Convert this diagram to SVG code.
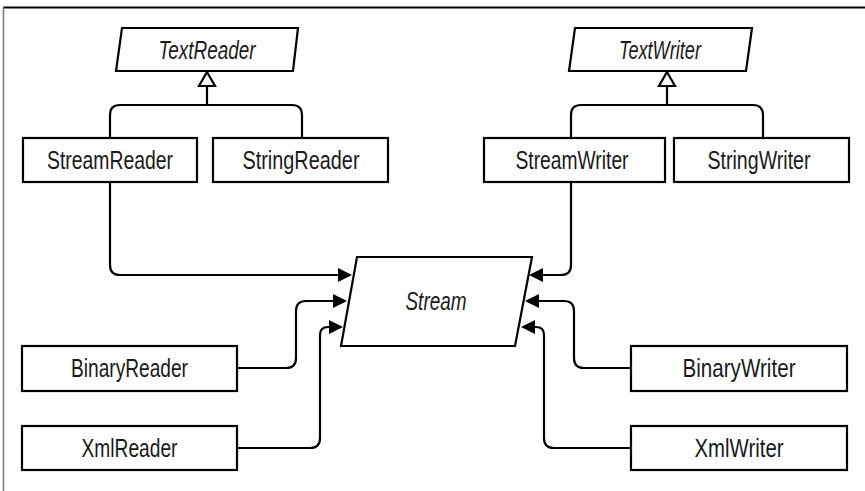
<svg xmlns="http://www.w3.org/2000/svg" width="865" height="491" viewBox="0 0 865 491">
<style>
.box{fill:#fff;stroke:#000;stroke-width:2.2}
.lbl{font-family:"Liberation Sans",Arial,sans-serif;font-size:26px;fill:#1a1a1a;text-anchor:middle}
.it{font-style:italic}
.con{fill:none;stroke:#000;stroke-width:2.2}
</style>
<defs>
<marker id="arr" markerUnits="userSpaceOnUse" markerWidth="15" markerHeight="15" refX="0" refY="7" orient="auto" viewBox="0 0 15 15">
<path d="M0,0 L14,7 L0,14 z" fill="#000"/>
</marker>
</defs>
<rect width="865" height="491" fill="#fff"/>
<line x1="3" y1="7.5" x2="865" y2="7.5" stroke="#000" stroke-width="2"/>
<line x1="3.5" y1="7" x2="3.5" y2="491" stroke="#777" stroke-width="1.5"/>

<g id="connectors">
<path class="con" d="M110,138 V115 Q110,105 120,105 H292 Q302,105 302,115 V138"/>
<path class="con" d="M207,86 V105"/>
<path class="con" d="M571,138 V115 Q571,105 581,105 H753 Q763,105 763,115 V138"/>
<path class="con" d="M667,86 V105"/>
<path d="M207,72 L215,86 L199,86 z" fill="#fff" stroke="#000" stroke-width="2.2" stroke-linejoin="miter"/>
<path d="M667,72 L675,86 L659,86 z" fill="#fff" stroke="#000" stroke-width="2.2" stroke-linejoin="miter"/>
<path class="con" marker-end="url(#arr)" d="M110,182 V265 Q110,275 120,275 H338"/>
<path class="con" marker-end="url(#arr)" d="M237,368 H286 Q296,368 296,358 V311 Q296,301 306,301 H333"/>
<path class="con" marker-end="url(#arr)" d="M237,448 H310 Q320,448 320,438 V335 Q320,327 328,327 H329"/>
<path class="con" marker-end="url(#arr)" d="M571,182 V265 Q571,275 561,275 H543"/>
<path class="con" marker-end="url(#arr)" d="M631,368 H584 Q574,368 574,358 V311 Q574,301 564,301 H539"/>
<path class="con" marker-end="url(#arr)" d="M631,448 H554 Q544,448 544,438 V335 Q544,327 536,327 H535"/>
</g>

<g id="TextReader">
<polygon class="box" points="122,28 298,28 293,71 116,71"/>
<text class="lbl it" x="207" y="59" textLength="97" lengthAdjust="spacingAndGlyphs">TextReader</text>
</g>
<g id="TextWriter">
<polygon class="box" points="575,28 752,28 746,71 569,71"/>
<text class="lbl it" x="660" y="59" textLength="82" lengthAdjust="spacingAndGlyphs">TextWriter</text>
</g>
<g id="StreamReader">
<rect class="box" x="23" y="138" width="174" height="44"/>
<text class="lbl" x="110" y="169" textLength="126" lengthAdjust="spacingAndGlyphs">StreamReader</text>
</g>
<g id="StringReader">
<rect class="box" x="213" y="138" width="175" height="44"/>
<text class="lbl" x="301" y="169" textLength="117" lengthAdjust="spacingAndGlyphs">StringReader</text>
</g>
<g id="StreamWriter">
<rect class="box" x="484" y="138" width="181" height="44"/>
<text class="lbl" x="572" y="169" textLength="113" lengthAdjust="spacingAndGlyphs">StreamWriter</text>
</g>
<g id="StringWriter">
<rect class="box" x="674" y="138" width="175" height="44"/>
<text class="lbl" x="759" y="169" textLength="103" lengthAdjust="spacingAndGlyphs">StringWriter</text>
</g>
<g id="Stream">
<polygon class="box" points="357,257 532,257 515,346 341,346"/>
<text class="lbl it" x="436" y="310" textLength="61" lengthAdjust="spacingAndGlyphs">Stream</text>
</g>
<g id="BinaryReader">
<rect class="box" x="22" y="346" width="215" height="45"/>
<text class="lbl" x="129.5" y="377" textLength="117" lengthAdjust="spacingAndGlyphs">BinaryReader</text>
</g>
<g id="XmlReader">
<rect class="box" x="22" y="426" width="215" height="44"/>
<text class="lbl" x="129.5" y="457" textLength="96" lengthAdjust="spacingAndGlyphs">XmlReader</text>
</g>
<g id="BinaryWriter">
<rect class="box" x="631" y="346" width="216" height="45"/>
<text class="lbl" x="739" y="377" textLength="113" lengthAdjust="spacingAndGlyphs">BinaryWriter</text>
</g>
<g id="XmlWriter">
<rect class="box" x="631" y="426" width="216" height="44"/>
<text class="lbl" x="739" y="457" textLength="89" lengthAdjust="spacingAndGlyphs">XmlWriter</text>
</g>
</svg>
